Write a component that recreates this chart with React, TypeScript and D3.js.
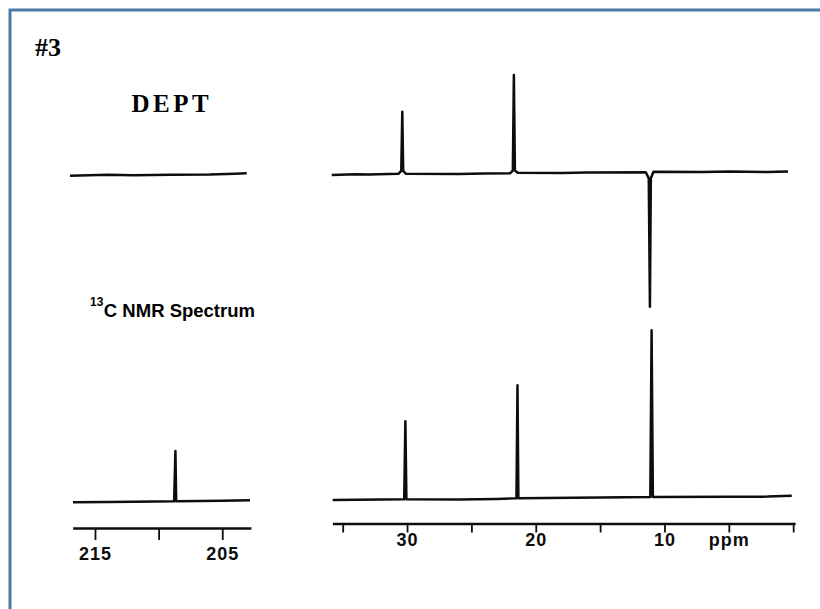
import { useEffect, useRef } from 'react';
import * as d3 from 'd3';

// chemical shift tick marks (ppm) and the text under them
const rightTicks = [35, 30, 25, 20, 15, 10, 5, 0];
const rightTickLabels = ['', '30', '', '20', '', '10', 'ppm', ''];
const leftTicks = [215, 210, 205];
const leftTickLabels = ['215', '', '205'];

// spectra as [ppm, relative intensity] points
const deptLeft: [number, number][] = [
  [216.96, -0.4], [214, 0.1], [212, -0.1], [209, 0.2], [206, 0.3], [204, 0.8], [203.08, 1.0],
];
const deptRight: [number, number][] = [
  [35.85, -1.0], [34, -0.5], [33, -0.7], [30.65, -0.2], [30.45, 1.4], [30.37, 36.7], [30.3, 1.4], [30.1, -0.2],
  [26, -0.4], [24, -0.1], [22.0, 0], [21.78, 1.6], [21.7, 58.5], [21.62, 1.6], [21.4, 0.3],
  [18, 0.2], [16, 0.5], [11.45, 0.6], [11.22, -3.0], [11.13, -79.4], [11.06, -3.0], [10.85, 0.9],
  [7, 0.7], [5, 1.0], [2, 0.8], [0.4, 1.1],
];
const c13Left: [number, number][] = [
  [216.73, -0.3], [214, -0.2], [212, 0], [208.78, 0.3], [208.68, 30.2], [208.62, 0.3], [205, 0.6], [202.82, 0.9],
];
const c13Right: [number, number][] = [
  [35.78, -1.0], [32, -0.7], [30.22, -0.5], [30.13, 45.8], [30.05, -0.5],
  [26, -0.7], [23, -0.4], [21.5, 0], [21.42, 67.3], [21.35, 0],
  [15, 0.5], [11.1, 0.8], [11.0, 100], [10.9, 0.8], [5, 0.9], [2, 1.0], [0.11, 1.5],
];

export default function App() {
  const svgRef = useRef<SVGSVGElement>(null);

  useEffect(() => {
    if (!svgRef.current) return;
    const width = 820;
    const height = 609;

    d3.select(svgRef.current).selectAll('*').remove();
    const svg = d3.select(svgRef.current)
      .attr('width', width)
      .attr('height', height);

    svg.append('rect').attr('width', width).attr('height', height).attr('fill', '#fff');

    // blue frame (only left and top edges are in view)
    svg.append('path')
      .attr('d', `M10,${height} L10,10 L${width},10`)
      .attr('fill', 'none')
      .attr('stroke', '#4b79a8')
      .attr('stroke-width', 3);

    const xLeft = d3.scaleLinear().domain([216.75, 202.75]).range([72.7, 250.9]);
    const xRight = d3.scaleLinear().domain([35.8, -0.15]).range([332.4, 795.1]);

    const panels = [
      { data: deptLeft, x: xLeft, y0: 175 },
      { data: deptRight, x: xRight, y0: 173.3 },
      { data: c13Left, x: xLeft, y0: 501.7 },
      { data: c13Right, x: xRight, y0: 498.3 },
    ];

    panels.forEach(p => {
      const y = d3.scaleLinear().domain([0, 100]).range([p.y0, p.y0 - 168]);
      const line = d3.line<[number, number]>()
        .x(d => p.x(d[0]))
        .y(d => y(d[1]));
      svg.append('path')
        .attr('d', line(p.data))
        .attr('fill', 'none')
        .attr('stroke', '#0d0d0d')
        .attr('stroke-width', 2.5)
        .attr('stroke-linejoin', 'round');
    });

    const styleAxis = (g: d3.Selection<SVGGElement, unknown, null, undefined>) => {
      g.select('.domain').attr('stroke', '#0d0d0d').attr('stroke-width', 2.3);
      g.selectAll('.tick line').attr('stroke', '#0d0d0d').attr('stroke-width', 1.8);
      g.selectAll('.tick text')
        .attr('fill', '#0d0d0d')
        .style('font-family', '"Liberation Sans", Arial, sans-serif')
        .style('font-weight', 'bold')
        .style('font-size', '18px')
        .style('letter-spacing', '1px');
    };

    svg.append('g')
      .attr('transform', 'translate(0,523.5)')
      .call(d3.axisBottom(xRight)
        .tickValues(rightTicks)
        .tickSize(9)
        .tickSizeOuter(0)
        .tickPadding(1)
        .tickFormat((d, i) => rightTickLabels[i]))
      .call(styleAxis);

    svg.append('g')
      .attr('transform', 'translate(0,528)')
      .call(d3.axisBottom(xLeft)
        .tickValues(leftTicks)
        .tickSize(12)
        .tickSizeOuter(0)
        .tickPadding(7)
        .tickFormat((d, i) => leftTickLabels[i]))
      .call(styleAxis);

    svg.append('text')
      .attr('x', 35)
      .attr('y', 56)
      .style('font-family', '"Liberation Serif", "Times New Roman", serif')
      .style('font-weight', 'bold')
      .style('font-size', '26px')
      .text('#3');

    svg.append('text')
      .attr('x', 131.5)
      .attr('y', 111.7)
      .style('font-family', '"Liberation Serif", "Times New Roman", serif')
      .style('font-weight', 'bold')
      .style('font-size', '25px')
      .style('letter-spacing', '3.5px')
      .text('DEPT');

    const nmr = svg.append('text')
      .attr('x', 90)
      .attr('y', 316.7)
      .style('font-family', '"Liberation Sans", Arial, sans-serif')
      .style('font-weight', 'bold')
      .style('font-size', '18.5px');
    nmr.append('tspan').attr('dy', -11).style('font-size', '12px').text('13');
    nmr.append('tspan').attr('dy', 11).attr('dx', 0.5).text('C NMR Spectrum');
  }, []);

  return (
    <svg ref={svgRef} style={{ position: 'absolute', left: 0, top: 0, display: 'block' }}></svg>
  );
}
